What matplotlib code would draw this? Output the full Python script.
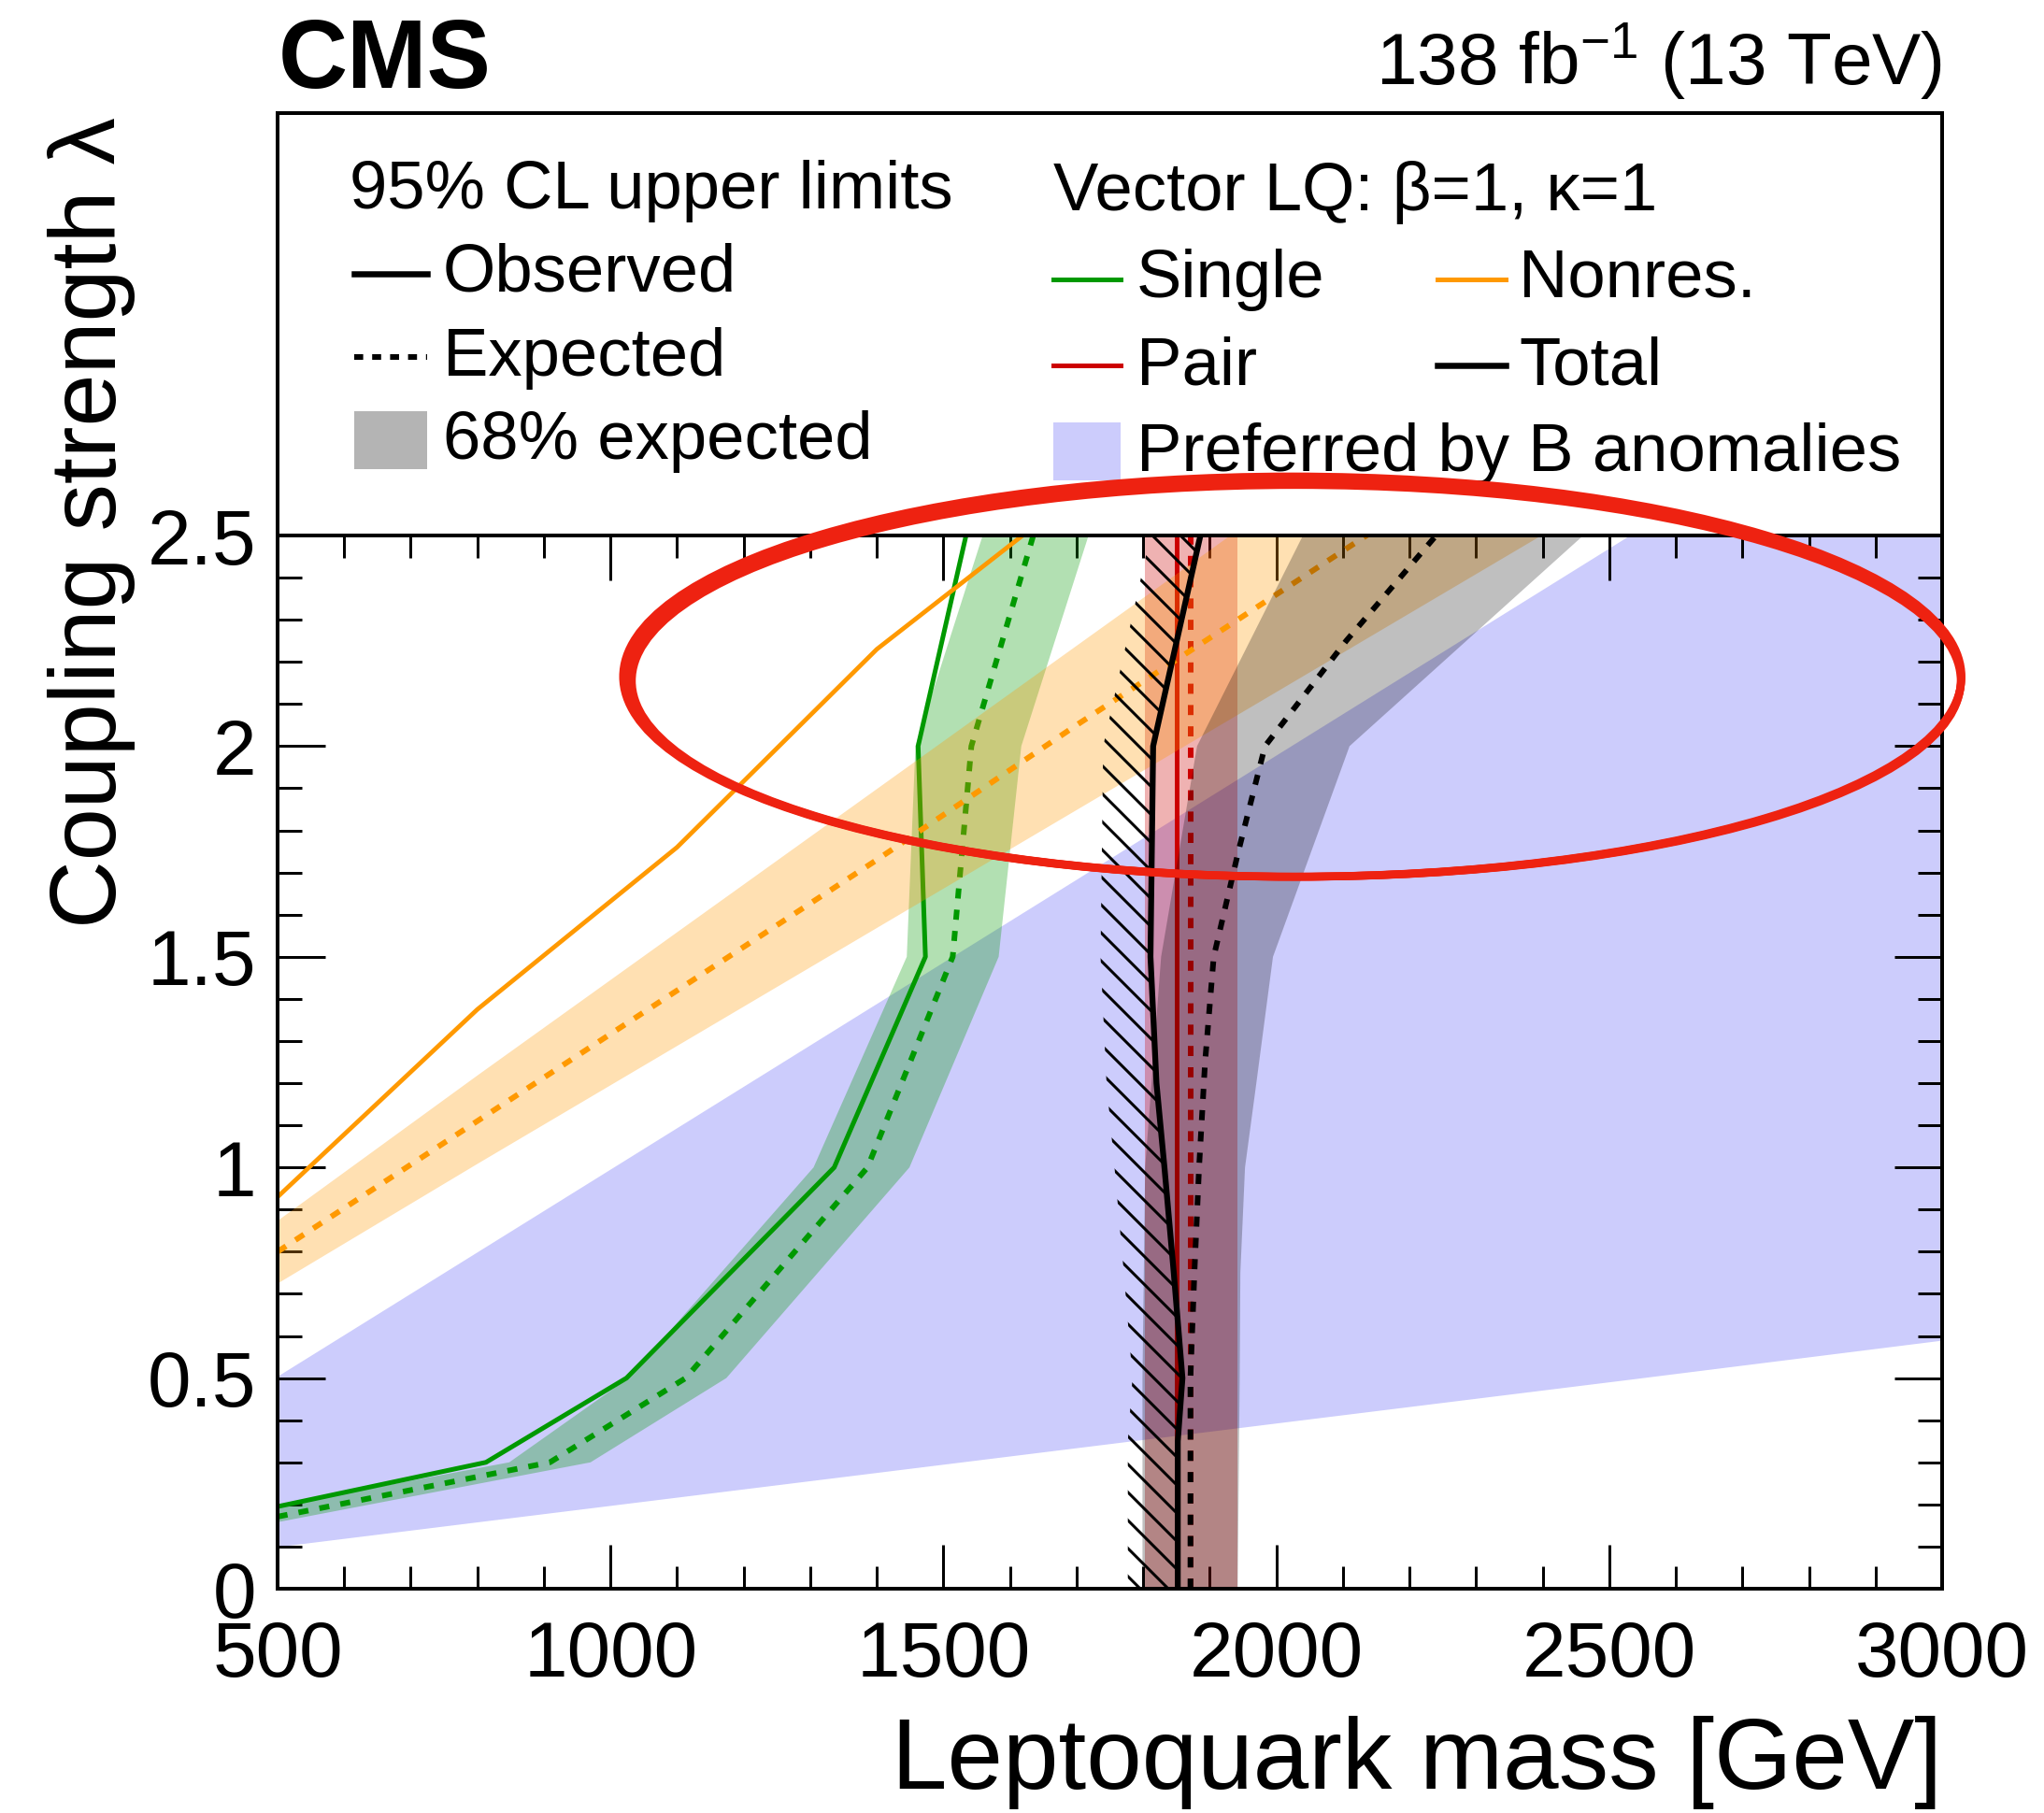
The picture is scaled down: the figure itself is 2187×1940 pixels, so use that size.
import numpy as np
import matplotlib
matplotlib.use('Agg')
import matplotlib.pyplot as plt
from matplotlib.lines import Line2D
from matplotlib.patches import Rectangle, Ellipse
from matplotlib.ticker import MultipleLocator, FormatStrFormatter

plt.rcParams['font.family'] = ['Liberation Sans', 'DejaVu Sans']
plt.rcParams['mathtext.fontset'] = 'custom'
plt.rcParams['mathtext.rm'] = 'Liberation Sans'
plt.rcParams['mathtext.default'] = 'regular'
plt.rcParams['hatch.linewidth'] = 1.2

# ---- data (mass in GeV, coupling lambda) ----
# single production (green)
single_obs_m = [500, 813, 1024, 1336, 1473, 1462, 1534]
single_obs_l = [0.195, 0.30, 0.50, 1.0, 1.5, 2.0, 2.5]
single_exp_m = [500, 909, 1113, 1386, 1514, 1542, 1635]
single_exp_l = [0.171, 0.30, 0.50, 1.0, 1.5, 2.0, 2.5]
single_band_up_m = [500, 848, 1027, 1305, 1445, 1458, 1559]
single_band_up_l = [0.197, 0.30, 0.50, 1.0, 1.5, 2.0, 2.5]
single_band_dn_m = [500, 970, 1174, 1449, 1583, 1617, 1718]
single_band_dn_l = [0.158, 0.30, 0.50, 1.0, 1.5, 2.0, 2.5]

# non-resonant (orange)
nonres_obs_m = [500, 800, 1100, 1400, 1700]
nonres_obs_l = [0.93, 1.375, 1.76, 2.23, 2.60]
nonres_exp_m = [500, 800, 1100, 1400, 1700, 2000, 2300]
nonres_exp_l = [0.80, 1.11, 1.42, 1.73, 2.05, 2.36, 2.67]
nonres_band_m = [500, 800, 1100, 1400, 1700, 2000, 2300, 2600]
nonres_band_hi = [0.875, 1.22, 1.56, 1.90, 2.24, 2.58, 2.92, 3.26]
nonres_band_lo = [0.726, 1.01, 1.29, 1.57, 1.85, 2.13, 2.41, 2.69]

# pair production (red)
pair_l = [0.0, 2.5]
pair_obs_m = [1851, 1851]
pair_exp_m = [1871, 1871]
pair_band_lo = [1803, 1803]
pair_band_hi = [1942, 1942]

# total (black)
total_obs_l = [0.0, 0.35, 0.5, 0.75, 1.0, 1.2, 1.5, 2.0, 2.5]
total_obs_m = [1852, 1852, 1859, 1846, 1832, 1820, 1811, 1815, 1886]
total_exp_l = [0.0, 0.5, 0.75, 1.0, 1.25, 1.5, 1.75, 2.0, 2.25, 2.5]
total_exp_m = [1871, 1871, 1877, 1884, 1893, 1906, 1943, 1983, 2105, 2240]
total_band_lo_l = [0.0, 0.5, 1.0, 1.5, 2.0, 2.5]
total_band_lo_m = [1799, 1799, 1803, 1827, 1881, 2040]
total_band_hi_l = [0.0, 0.5, 0.75, 1.0, 1.2, 1.5, 2.0, 2.5]
total_band_hi_m = [1942, 1945, 1946, 1953, 1970, 1995, 2110, 2461]

# region preferred by B anomalies
banom_m = [500, 2530, 3000]
banom_lo = [0.10, 0.497, 0.59]
banom_hi = [0.505, 2.5, 2.5]

hatch_width = 75  # GeV, width of the excluded-side hatching

green = '#009900'
orange = '#ff9900'
red = '#cc0000'
blue = '#ccccfc'

W, H, DPI = 2187, 1940, 180
fig = plt.figure(figsize=(W / DPI, H / DPI), dpi=DPI)


def fx(x):
    return x / W


def fy(y):
    return 1 - y / H


X0, X1 = 297, 2078
Y_TOP, Y_MID, Y_BOT = 121, 573, 1700

# legend box (drawn first so the main axes annotation can sit on top)
ax_leg = fig.add_axes([fx(X0), fy(Y_MID), fx(X1) - fx(X0), fy(Y_TOP) - fy(Y_MID)])
ax_leg.set_xticks([])
ax_leg.set_yticks([])
for s in ax_leg.spines.values():
    s.set_linewidth(1.6)

ax = fig.add_axes([fx(X0), fy(Y_BOT), fx(X1) - fx(X0), fy(Y_MID) - fy(Y_BOT)])

dash = (1.8, 2.0)

ax.fill_between(banom_m, banom_lo, banom_hi, color=blue, lw=0, zorder=1)

ax.plot(pair_obs_m, pair_l, color=red, lw=2.0, zorder=2)
ax.plot(pair_exp_m, pair_l, color=red, lw=2.4, dashes=dash, zorder=2)
ax.fill_betweenx(pair_l, pair_band_lo, pair_band_hi, color=red, alpha=0.3, lw=0, zorder=3)

ax.fill(np.concatenate([single_band_up_m, single_band_dn_m[::-1]]),
        np.concatenate([single_band_up_l, single_band_dn_l[::-1]]),
        color=green, alpha=0.3, lw=0, zorder=4)
ax.plot(single_obs_m, single_obs_l, color=green, lw=2.0, zorder=5)
ax.plot(single_exp_m, single_exp_l, color=green, lw=2.4, dashes=dash, zorder=5)

ax.fill_between(nonres_band_m, nonres_band_lo, nonres_band_hi, color=orange, alpha=0.3, lw=0, zorder=6)
ax.plot(nonres_obs_m, nonres_obs_l, color=orange, lw=1.9, zorder=7)
ax.plot(nonres_exp_m, nonres_exp_l, color=orange, lw=2.4, dashes=dash, zorder=7)

ax.fill(np.concatenate([total_band_lo_m, total_band_hi_m[::-1]]),
        np.concatenate([total_band_lo_l, total_band_hi_l[::-1]]),
        color='black', alpha=0.25, lw=0, zorder=8)
ax.fill_betweenx(total_obs_l, np.array(total_obs_m) - hatch_width, total_obs_m,
                 facecolor='none', edgecolor='black', hatch='\\\\', lw=0, zorder=9)
ax.plot(total_obs_m, total_obs_l, color='black', lw=2.5, zorder=9)
ax.plot(total_exp_m, total_exp_l, color='black', lw=2.4, dashes=dash, zorder=9)

ax.set_xlim(500, 3000)
ax.set_ylim(0, 2.5)
ax.xaxis.set_major_locator(MultipleLocator(500))
ax.xaxis.set_minor_locator(MultipleLocator(100))
ax.yaxis.set_major_locator(MultipleLocator(0.5))
ax.yaxis.set_minor_locator(MultipleLocator(0.1))
ax.xaxis.set_major_formatter(FormatStrFormatter('%g'))
ax.yaxis.set_major_formatter(FormatStrFormatter('%g'))
ax.tick_params(which='both', direction='in', top=True, right=True, width=1.2, labelsize=33.5)
ax.tick_params(axis='x', which='major', length=19, pad=13)
ax.tick_params(axis='x', which='minor', length=9.5)
ax.tick_params(axis='y', which='major', length=20.5, pad=9)
ax.tick_params(axis='y', which='minor', length=10.5)
for s in ax.spines.values():
    s.set_linewidth(1.6)
    s.set_zorder(12)

# axis titles and header
fig.text(fx(X1), fy(1914), 'Leptoquark mass [GeV]', ha='right', va='baseline', fontsize=42.8)
fig.text(fx(98), fy(125), 'Coupling strength \u03bb', ha='center', va='top', rotation=90, fontsize=40.3)
fig.text(fx(298), fy(94), 'CMS', ha='left', va='baseline', fontsize=41, fontweight='bold')
fig.text(fx(X1), fy(91), '138 fb$^{-1}$ (13 TeV)', ha='right', va='baseline', fontsize=31.3)

# legend entries
LFS = 29


def leg_line(x0, x1, y, **kw):
    fig.add_artist(Line2D([fx(x0), fx(x1)], [fy(y), fy(y)], transform=fig.transFigure, **kw))


def leg_box(x0, x1, y0, y1, color):
    fig.add_artist(Rectangle((fx(x0), fy(y1)), fx(x1) - fx(x0), fy(y0) - fy(y1),
                             transform=fig.transFigure, color=color, lw=0))


fig.text(fx(374), fy(223), '95% CL upper limits', fontsize=LFS, va='baseline')
leg_line(379, 457, 293, color='black', lw=2.6)
fig.text(fx(474), fy(312), 'Observed', fontsize=LFS, va='baseline')
leg_line(379, 457, 382, color='black', lw=2.4, dashes=(1.6, 1.6))
fig.text(fx(474), fy(402), 'Expected', fontsize=LFS, va='baseline')
leg_box(379, 457, 440, 502, '#b4b4b4')
fig.text(fx(474), fy(491), '68% expected', fontsize=LFS, va='baseline')

fig.text(fx(1127), fy(225), 'Vector LQ: \u03b2=1, \u03ba=1', fontsize=LFS, va='baseline')
leg_line(1127, 1199, 299, color=green, lw=2.0)
fig.text(fx(1216), fy(318), 'Single', fontsize=LFS, va='baseline')
leg_line(1538, 1611, 299, color=orange, lw=2.0)
fig.text(fx(1625), fy(318), 'Nonres.', fontsize=LFS, va='baseline')
leg_line(1127, 1199, 391, color=red, lw=2.0)
fig.text(fx(1216), fy(411), 'Pair', fontsize=LFS, va='baseline')
leg_line(1538, 1611, 391, color='black', lw=2.6)
fig.text(fx(1625), fy(411), 'Total', fontsize=LFS, va='baseline')
leg_box(1127, 1199, 452, 514, blue)
fig.text(fx(1216), fy(504), 'Preferred by B anomalies', fontsize=LFS, va='baseline')

# hand-drawn style highlight ellipse over the plot (a few overlapping strokes)
ell_center = (2027, 2.16)
ell_width = 2003
ell_height = 0.94
ell_strokes = [(0, 0.0, 0, 0.0), (7, 0.010, -3, 0.005), (-7, -0.010, 3, -0.005)]
for dw, dh, dx, dy in ell_strokes:
    fig.add_artist(Ellipse((ell_center[0] + dx, ell_center[1] + dy), ell_width + dw, ell_height + dh,
                           transform=ax.transData, fill=False, edgecolor='#ee2211',
                           lw=3.4, zorder=30))

fig.savefig('out.png', dpi=DPI)
